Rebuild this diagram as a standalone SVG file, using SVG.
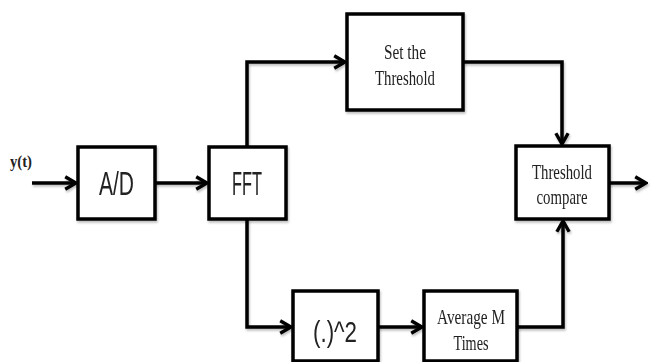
<svg xmlns="http://www.w3.org/2000/svg" width="652" height="362" viewBox="0 0 652 362">
<style>
.box{fill:#fff;stroke:#000;stroke-width:3.5}
.ln{fill:none;stroke:#000;stroke-width:3.5;stroke-linejoin:miter}
.sans{font-family:"Liberation Sans",Arial,sans-serif;fill:#222;text-anchor:middle}
.serif{font-family:"Liberation Serif","Times New Roman",serif;fill:#222;text-anchor:middle}
</style>
<defs>
<marker id="ah" viewBox="0 0 10 10" refX="9" refY="5" markerWidth="4.4" markerHeight="4.4" orient="auto" markerUnits="strokeWidth">
<path d="M2,1 L9,5 L2,9" fill="none" stroke="#000" stroke-width="2.2" stroke-linejoin="miter"/>
</marker>
<filter id="sh" x="-10%" y="-10%" width="120%" height="130%">
<feDropShadow dx="1" dy="2" stdDeviation="1" flood-color="#000" flood-opacity="0.25"/>
</filter>
</defs>
<g id="connectors" filter="url(#sh)">
<line class="ln" x1="32" y1="183" x2="76" y2="183" marker-end="url(#ah)"/>
<line class="ln" x1="155" y1="183" x2="207" y2="183" marker-end="url(#ah)"/>
<polyline class="ln" points="247,147 247,62 345,62" marker-end="url(#ah)"/>
<polyline class="ln" points="463,62 562,62 562,144" marker-end="url(#ah)"/>
<polyline class="ln" points="247,219 247,327 291,327" marker-end="url(#ah)"/>
<line class="ln" x1="378" y1="327" x2="422" y2="327" marker-end="url(#ah)"/>
<polyline class="ln" points="517,327 563,327 563,221" marker-end="url(#ah)"/>
<line class="ln" x1="609" y1="183" x2="646" y2="183" marker-end="url(#ah)"/>
</g>
<g id="input-label">
<text class="serif" x="21" y="167" font-size="17" font-weight="bold" textLength="22" lengthAdjust="spacingAndGlyphs">y(t)</text>
</g>
<g id="ad" filter="url(#sh)">
<rect class="box" x="78" y="147" width="77" height="72"/>
<text class="sans" x="116.5" y="195" font-size="33" textLength="35" lengthAdjust="spacingAndGlyphs">A/D</text>
</g>
<g id="fft" filter="url(#sh)">
<rect class="box" x="209" y="147" width="77" height="72"/>
<text class="sans" x="247" y="195" font-size="33" textLength="30" lengthAdjust="spacingAndGlyphs">FFT</text>
</g>
<g id="set-threshold" filter="url(#sh)">
<rect class="box" x="347" y="14" width="116" height="96"/>
<text class="serif" x="405" y="59" font-size="21" textLength="42" lengthAdjust="spacingAndGlyphs">Set the</text>
<text class="serif" x="405" y="85" font-size="21" textLength="60" lengthAdjust="spacingAndGlyphs">Threshold</text>
</g>
<g id="threshold-compare" filter="url(#sh)">
<rect class="box" x="516" y="146" width="93" height="73"/>
<text class="serif" x="562" y="179" font-size="21" textLength="60" lengthAdjust="spacingAndGlyphs">Threshold</text>
<text class="serif" x="562" y="204" font-size="21" textLength="51" lengthAdjust="spacingAndGlyphs">compare</text>
</g>
<g id="square" filter="url(#sh)">
<rect class="box" x="293" y="291" width="85" height="70"/>
<text class="sans" x="335" y="342" font-size="29" textLength="44" lengthAdjust="spacingAndGlyphs">(.)^2</text>
</g>
<g id="average" filter="url(#sh)">
<rect class="box" x="424" y="291" width="93" height="70"/>
<text class="serif" x="471" y="324" font-size="21" textLength="68" lengthAdjust="spacingAndGlyphs">Average M</text>
<text class="serif" x="471" y="350" font-size="21" textLength="35" lengthAdjust="spacingAndGlyphs">Times</text>
</g>
</svg>
